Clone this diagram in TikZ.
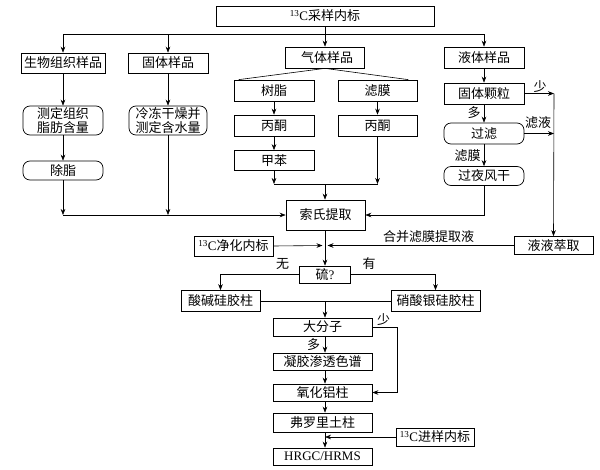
\documentclass[tikz,border=0pt]{standalone}
\usepackage{fontspec}
\setmainfont{Liberation Serif}
\newfontfamily\cjk{Noto Sans CJK SC}
\usetikzlibrary{arrows.meta}
\newcommand{\Cth}{{\rmfamily\textsuperscript{13}C}}
\begin{document}
\begin{tikzpicture}[x=1pt,y=-1pt,
  box/.style={draw, line width=0.7pt, inner sep=0pt, align=center,
    font=\cjk\fontsize{13}{14}\selectfont},
  rbox/.style={box, rounded corners=7pt},
  arr/.style={-{Stealth[length=6pt,width=4.6pt]}, line width=0.6pt},
  ln/.style={line width=0.6pt},
  lbl/.style={inner sep=0pt, font=\cjk\fontsize{13}{14}\selectfont}]
\useasboundingbox (0,0) rectangle (600,469);

% boxes
\node[box, minimum width=218pt, minimum height=20pt] (top) at (325,16) {\Cth 采样内标};
\node[box, minimum width=84pt, minimum height=20pt] (bio) at (63,63) {生物组织样品};
\node[box, minimum width=80pt, minimum height=20pt] (solid) at (168,63) {固体样品};
\node[box, minimum width=79pt, minimum height=21pt] (gas) at (325,57.5) {\hspace{4pt}气体样品};
\node[box, minimum width=80pt, minimum height=21pt] (liq) at (484,57.5) {液体样品};

\node[rbox, minimum width=80pt, minimum height=29pt] (fat) at (63,120.5) {测定组织\\脂肪含量};
\node[rbox, minimum width=78pt, minimum height=29pt] (freeze) at (168,120.5) {冷冻干燥并\\测定含水量};
\node[rbox, minimum width=80pt, minimum height=19pt] (dezh) at (63,170.5) {除脂};

\node[box, minimum width=80pt, minimum height=21pt] (resin) at (274,90.5) {树脂};
\node[box, minimum width=79pt, minimum height=21pt] (film) at (377.5,90.5) {滤膜};
\node[box, minimum width=80pt, minimum height=21pt] (acL) at (274,125.5) {丙酮};
\node[box, minimum width=79pt, minimum height=21pt] (acR) at (377.5,125.5) {丙酮};
\node[box, minimum width=80pt, minimum height=20pt] (tol) at (274,160.5) {甲苯};

\node[box, minimum width=80pt, minimum height=21pt] (gran) at (484,93.5) {固体颗粒};
\node[rbox, minimum width=80pt, minimum height=21pt] (filt) at (484,133.5) {过滤};
\node[rbox, minimum width=80pt, minimum height=19pt] (dry) at (484,176) {过夜风干};

\node[box, minimum width=79pt, minimum height=30pt] (sox) at (325.5,215) {索氏提取};
\node[box, minimum width=79pt, minimum height=18pt] (lle) at (553.5,245.5) {液液萃取};
\node[box, minimum width=79pt, minimum height=20pt] (clean) at (233.5,246) {\Cth 净化内标};
\node[box, minimum width=51pt, minimum height=17pt] (sul) at (325,274.5) {硫{\rmfamily ?}};
\node[box, minimum width=79pt, minimum height=21pt] (acid) at (220.5,301) {酸碱硅胶柱};
\node[box, minimum width=89pt, minimum height=21pt] (silver) at (435.5,301) {硝酸银硅胶柱};
\node[box, minimum width=99pt, minimum height=18pt] (macro) at (322.5,327) {大分子};
\node[box, minimum width=99pt, minimum height=17pt] (gpc) at (322.5,361.5) {凝胶渗透色谱};
\node[box, minimum width=99pt, minimum height=17pt] (alu) at (322.5,392.5) {氧化铝柱};
\node[box, minimum width=99pt, minimum height=19pt] (flor) at (322.5,422.5) {弗罗里土柱};
\node[box, minimum width=78pt, minimum height=18pt] (inj) at (435,437) {\Cth 进样内标};
\node[box, minimum width=99pt, minimum height=17pt, font=\rmfamily\fontsize{13}{14}\selectfont] (hr) at (322.5,456.5) {HRGC/HRMS};

% labels
\node[lbl] (lshao1) at (540,87) {少};
\node[lbl] (lduo1) at (474,113) {多};
\node[lbl] (llvye) at (538,123) {滤液};
\node[lbl] (llvmo) at (467.5,156) {滤膜};
\node[lbl] (lhebing) at (428.5,236.5) {合并滤膜提取液};
\node[lbl] (lwu) at (282.5,264) {无};
\node[lbl] (lyou) at (369,263.5) {有};
\node[lbl] (lshao2) at (383.5,320) {少};
\node[lbl] (lduo2) at (313.5,345) {多};

% coordinates
\coordinate (hbar) at (0,34);
\coordinate (gbar) at (0,184);
\coordinate (vline) at (554,0);
\coordinate (mainx) at (325,0);
\coordinate (bypass) at (397,0);

% top distribution
\draw[arr] (top.south) -- (gas.north);
\draw[ln] (bio.north |- hbar) -- (liq.north |- hbar);
\draw[arr] (bio.north |- hbar) -- (bio.north);
\draw[arr] (solid.north |- hbar) -- (solid.north);
\draw[arr] (liq.north |- hbar) -- (liq.north);

% biological & solid
\draw[arr] (bio) -- (fat);
\draw[arr] (fat) -- (dezh);
\draw[arr] (solid) -- (freeze);
\draw[arr] (dezh.south) -- (dezh.south |- sox.west);
\draw[arr] (freeze.south) -- (freeze.south |- sox.west);
\draw[arr] (dezh.south |- sox.west) -- (sox.west);

% gas
\draw[ln] (gas.south) -- ([xshift=5pt]resin.north west);
\draw[ln] (gas.south) -- ([xshift=-9pt]film.north east);
\draw[arr] (resin) -- (acL);
\draw[arr] (acL) -- (tol);
\draw[arr] (film) -- (acR);
\draw[arr] (tol.south) -- (tol.south |- gbar);
\draw[arr] (acR.south) -- (acR.south |- gbar);
\draw[ln] (tol.south |- gbar) -- (acR.south |- gbar);
\draw[arr] (mainx |- gbar) -- (mainx |- sox.north);

% liquid
\draw[arr] (liq) -- (gran);
\draw[arr] (gran) -- (filt);
\draw[arr] (filt) -- (dry);
\draw[arr] (dry.south) |- (sox.east);
\draw[arr] (gran.east) -- (vline |- gran.east);
\draw[arr] (filt.east) -- (vline |- filt.east);
\draw[arr] (vline |- gran.east) -- (lle.north);

% merge
\draw[arr] (sox.south -| mainx) -- (sul.north);
\draw[arr] (lle.west) -- ([xshift=2.5pt]mainx |- lle.west);
\draw[arr] (clean.east) -- ([xshift=-2.5pt]mainx |- lle.west);

% sulfur branch
\draw[arr] (sul.west) -| (acid.north);
\draw[arr] (sul.east) -| (silver.north);
\draw[ln] (acid.east) -- (silver.west);
\draw[arr] (mainx |- acid.east) -- (mainx |- macro.north);

% cleanup chain
\draw[arr] (mainx |- macro.south) -- (mainx |- gpc.north);
\draw[arr] (mainx |- gpc.south) -- (mainx |- alu.north);
\draw[arr] (mainx |- alu.south) -- (mainx |- flor.north);
\draw[arr] (mainx |- flor.south) -- (mainx |- hr.north);
\draw[arr] (macro.east) -- (bypass |- macro.east) -- (bypass |- alu.east) -- (alu.east);
\draw[arr] (inj.west) -- (mainx |- inj.west);
\end{tikzpicture}
\end{document}
